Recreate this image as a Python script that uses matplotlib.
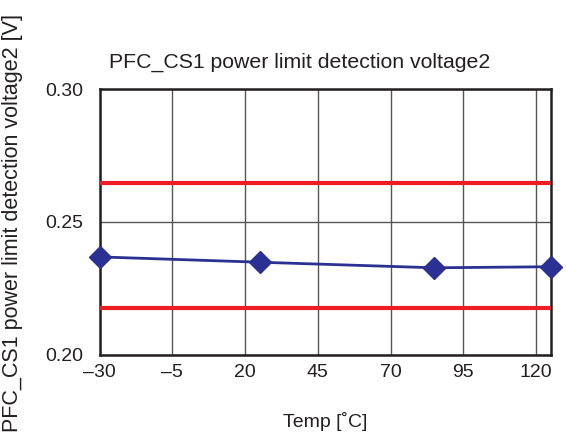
import matplotlib.pyplot as plt
import matplotlib as mpl

# measured points and limit lines
temps = [-30, 25, 85, 125]
voltage = [0.2368, 0.2348, 0.2327, 0.2331]
upper_limit = 0.2646
lower_limit = 0.2176

xticks = [-30, -5, 20, 45, 70, 95, 120]
xtick_labels = ['\u201330', '\u20135', '20', '45', '70', '95', '120']
yticks = [0.20, 0.25, 0.30]
ytick_labels = ['0.20', '0.25', '0.30']

mpl.rcParams['font.family'] = ['Liberation Sans', 'DejaVu Sans']
mpl.rcParams['font.size'] = 14

fig = plt.figure(figsize=(5.66, 4.45), dpi=100)
ax = fig.add_axes([0.1758, 0.203, 0.7972, 0.597])

ax.set_xlim(-30, 125)
ax.set_ylim(0.20, 0.30)
ax.set_xticks(xticks)
ax.set_xticklabels(xtick_labels)
ax.set_yticks(yticks)
ax.set_yticklabels(ytick_labels)
ax.tick_params(length=0, labelsize=14, colors='#231f20')
ax.tick_params(axis='x', pad=7)
ax.tick_params(axis='y', pad=12)

ax.grid(True, color='#555555', linewidth=1.0)
ax.set_axisbelow(True)
for s in ax.spines.values():
    s.set_color('#231f20')
    s.set_linewidth(1.8)

ax.axhline(upper_limit, color='#ee1c25', linewidth=3.0, zorder=3)
ax.axhline(lower_limit, color='#ee1c25', linewidth=3.0, zorder=3)

ax.plot(temps, voltage, color='#2b3192', linewidth=2.0, marker='D',
        markersize=11.5, clip_on=False, zorder=4)

ax.set_xlabel('Temp [\u02daC]', fontsize=14, labelpad=22, color='#231f20')
fig.text(0.53, 0.86, 'PFC_CS1 power limit detection voltage2', fontsize=15.3,
         ha='center', va='center', color='#231f20')
fig.text(0.022, 0.5, 'PFC_CS1 power limit detection voltage2 [V]', fontsize=15.5,
         rotation=90, ha='center', va='center', color='#231f20')

fig.savefig('out.png', dpi=100)
